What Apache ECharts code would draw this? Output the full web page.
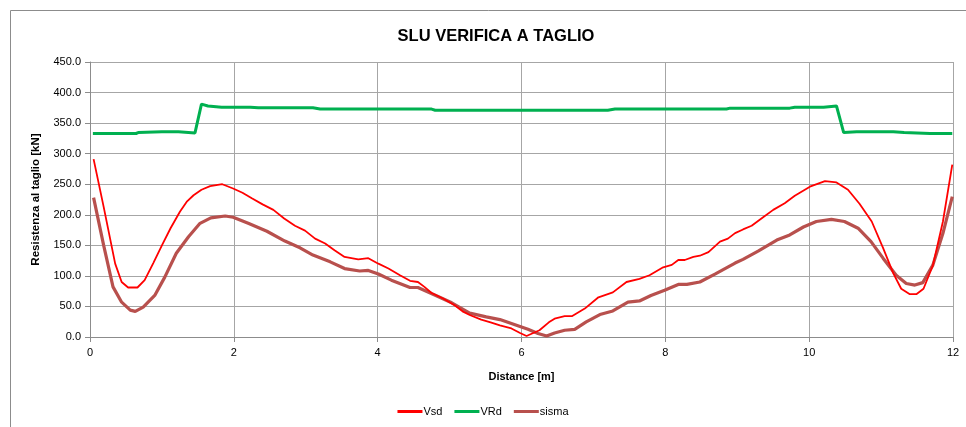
<!DOCTYPE html>
<html>
<head>
<meta charset="utf-8">
<script src="https://cdn.jsdelivr.net/npm/echarts@6/dist/echarts.min.js"></script>
<style>
  html, body { margin: 0; padding: 0; background: #fff; }
  #chart { width: 966px; height: 427px; }
</style>
</head>
<body>
<div id="chart"></div>
<script>
// Shear check along the beam: design shear (Vsd), shear resistance (VRd), seismic shear (sisma)
const xTicks = [0, 2, 4, 6, 8, 10, 12];
const yTicks = [0, 50, 100, 150, 200, 250, 300, 350, 400, 450];

const vsdX = [0.05, 0.19, 0.35, 0.44, 0.53, 0.66, 0.76, 0.88, 1.0, 1.12, 1.25, 1.35, 1.44, 1.55, 1.67, 1.84, 1.99, 2.12, 2.25, 2.4, 2.55, 2.7, 2.85, 2.99, 3.13, 3.27, 3.4, 3.54, 3.73, 3.87, 4.01, 4.15, 4.31, 4.45, 4.56, 4.65, 4.75, 4.91, 5.07, 5.18, 5.28, 5.44, 5.57, 5.7, 5.86, 5.98, 6.07, 6.25, 6.38, 6.46, 6.6, 6.7, 6.88, 7.07, 7.27, 7.46, 7.64, 7.78, 7.97, 8.09, 8.18, 8.27, 8.39, 8.48, 8.6, 8.76, 8.87, 8.97, 9.08, 9.2, 9.36, 9.5, 9.66, 9.8, 10.01, 10.22, 10.38, 10.54, 10.7, 10.87, 11.03, 11.17, 11.28, 11.4, 11.49, 11.59, 11.72, 11.86, 11.99];
const vsdY = [291, 213, 120, 90, 81, 81, 93, 121, 150, 178, 205, 222, 232, 241, 247, 250, 243, 236, 227, 217, 208, 194, 182, 174, 161, 153, 142, 131, 127, 129, 120, 112, 101, 92, 90, 82, 72, 63, 52, 42, 36, 28.5, 24, 19, 14, 6.5, 1.6, 11, 24, 30, 34, 34, 46.5, 65, 73, 90, 95, 101, 114, 118, 126, 126, 131, 133, 139, 156, 161, 170, 176, 182, 196, 208, 219, 231, 246, 255, 253, 241, 218, 189, 145, 104, 79, 70, 70, 79, 117, 189, 282];

const vrdX = [0.04, 0.64, 0.67, 1.0, 1.23, 1.46, 1.55, 1.64, 1.83, 2.23, 2.34, 3.1, 3.2, 4.75, 4.8, 7.2, 7.3, 8.85, 8.9, 9.73, 9.8, 10.2, 10.38, 10.48, 10.66, 11.17, 11.32, 11.68, 11.99];
const vrdY = [333, 333, 334.5, 336, 336, 334, 381, 378, 376, 376, 375, 375, 373, 373, 371, 371, 373, 373, 374.5, 374.5, 376, 376, 378, 334.5, 336, 336, 334.5, 333, 333];

const sismaX = [0.05, 0.19, 0.32, 0.44, 0.56, 0.63, 0.74, 0.9, 1.04, 1.2, 1.37, 1.53, 1.68, 1.88, 1.99, 2.2, 2.46, 2.71, 2.92, 3.1, 3.34, 3.54, 3.75, 3.87, 4.01, 4.19, 4.45, 4.56, 4.77, 5.03, 5.28, 5.51, 5.7, 5.91, 6.09, 6.23, 6.35, 6.46, 6.6, 6.74, 6.9, 7.09, 7.27, 7.48, 7.64, 7.8, 7.99, 8.18, 8.3, 8.48, 8.69, 8.97, 9.08, 9.29, 9.55, 9.73, 9.92, 10.1, 10.31, 10.49, 10.68, 10.86, 11.03, 11.21, 11.35, 11.47, 11.58, 11.72, 11.86, 11.99];
const sismaY = [228, 150, 82, 57, 44, 42, 49, 68, 98, 137, 164, 186, 195, 198, 196, 186, 173, 157, 146, 134, 123, 112, 108, 109, 103, 93, 81, 81, 70, 56, 39, 33, 28.5, 20, 12.6, 5.6, 1.6, 6.5, 11, 12.6, 24.6, 36.7, 42.6, 57, 59, 68, 76.6, 86, 86, 90, 103, 121, 127, 140.5, 158.6, 167, 180, 189, 192.5, 189, 178, 156, 128.6, 101, 87.6, 85, 89, 117.6, 169.6, 229.6];

const pairs = (xs, ys) => xs.map((x, i) => [x, ys[i]]);

const FONT = '"Liberation Sans", Arial, sans-serif';
const chart = echarts.init(document.getElementById('chart'), null, { renderer: 'canvas' });

chart.setOption({
  animation: false,
  backgroundColor: '#ffffff',
  textStyle: { fontFamily: FONT },
  graphic: [{
    type: 'rect',
    shape: { x: 10.5, y: 10.5, width: 1000, height: 500 },
    style: { fill: 'none', stroke: '#8c8c8c', lineWidth: 1 },
    silent: true
  }],
  title: {
    text: 'SLU VERIFICA A TAGLIO',
    left: 491, top: 23, textAlign: 'center',
    textStyle: { fontFamily: FONT, fontSize: 16.5, fontWeight: 'bold', color: '#000' }
  },
  grid: { left: 90, right: 13, top: 62, bottom: 90, containLabel: false },
  legend: {
    top: 401, left: 'center',
    icon: 'rect', itemWidth: 25, itemHeight: 3, itemGap: 12,
    textStyle: { fontFamily: FONT, fontSize: 11, color: '#000', padding: [0, 0, 0, -4] },
    data: ['Vsd', 'VRd', 'sisma']
  },
  xAxis: {
    type: 'value', min: 0, max: 12, interval: 2,
    name: 'Distance [m]', nameLocation: 'middle', nameGap: 34,
    nameTextStyle: { fontFamily: FONT, fontSize: 11, fontWeight: 'bold', color: '#000' },
    axisLine: { show: true, onZero: false, lineStyle: { color: '#8c8c8c', width: 1 } },
    axisTick: { show: true, length: 5, lineStyle: { color: '#8c8c8c' } },
    axisLabel: {
      margin: 10, fontFamily: FONT, fontSize: 11, color: '#000',
      formatter: v => xTicks.includes(v) ? String(v) : ''
    },
    splitLine: { show: true, lineStyle: { color: '#a6a6a6', width: 1 } }
  },
  yAxis: {
    type: 'value', min: 0, max: 450, interval: 50,
    name: 'Resistenza al taglio [kN]', nameLocation: 'middle', nameGap: 48, nameRotate: 90,
    nameTextStyle: { fontFamily: FONT, fontSize: 11.5, fontWeight: 'bold', color: '#000' },
    axisLine: { show: true, lineStyle: { color: '#8c8c8c', width: 1 } },
    axisTick: { show: true, length: 5, lineStyle: { color: '#8c8c8c' } },
    axisLabel: {
      margin: 9, fontFamily: FONT, fontSize: 11, color: '#000',
      formatter: v => yTicks.includes(v) ? v.toFixed(1) : ''
    },
    splitLine: { show: true, lineStyle: { color: '#a6a6a6', width: 1 } }
  },
  series: [
    {
      name: 'Vsd', type: 'line', data: pairs(vsdX, vsdY),
      showSymbol: false, symbol: 'none',
      lineStyle: { color: '#ff0000', width: 1.8 }, itemStyle: { color: '#ff0000' }, z: 4
    },
    {
      name: 'VRd', type: 'line', data: pairs(vrdX, vrdY),
      showSymbol: false, symbol: 'none',
      lineStyle: { color: '#00b050', width: 3 }, itemStyle: { color: '#00b050' }, z: 3
    },
    {
      name: 'sisma', type: 'line', data: pairs(sismaX, sismaY),
      showSymbol: false, symbol: 'none',
      lineStyle: { color: '#b8504d', width: 3.2 }, itemStyle: { color: '#b8504d' }, z: 2
    }
  ]
});
</script>
</body>
</html>
